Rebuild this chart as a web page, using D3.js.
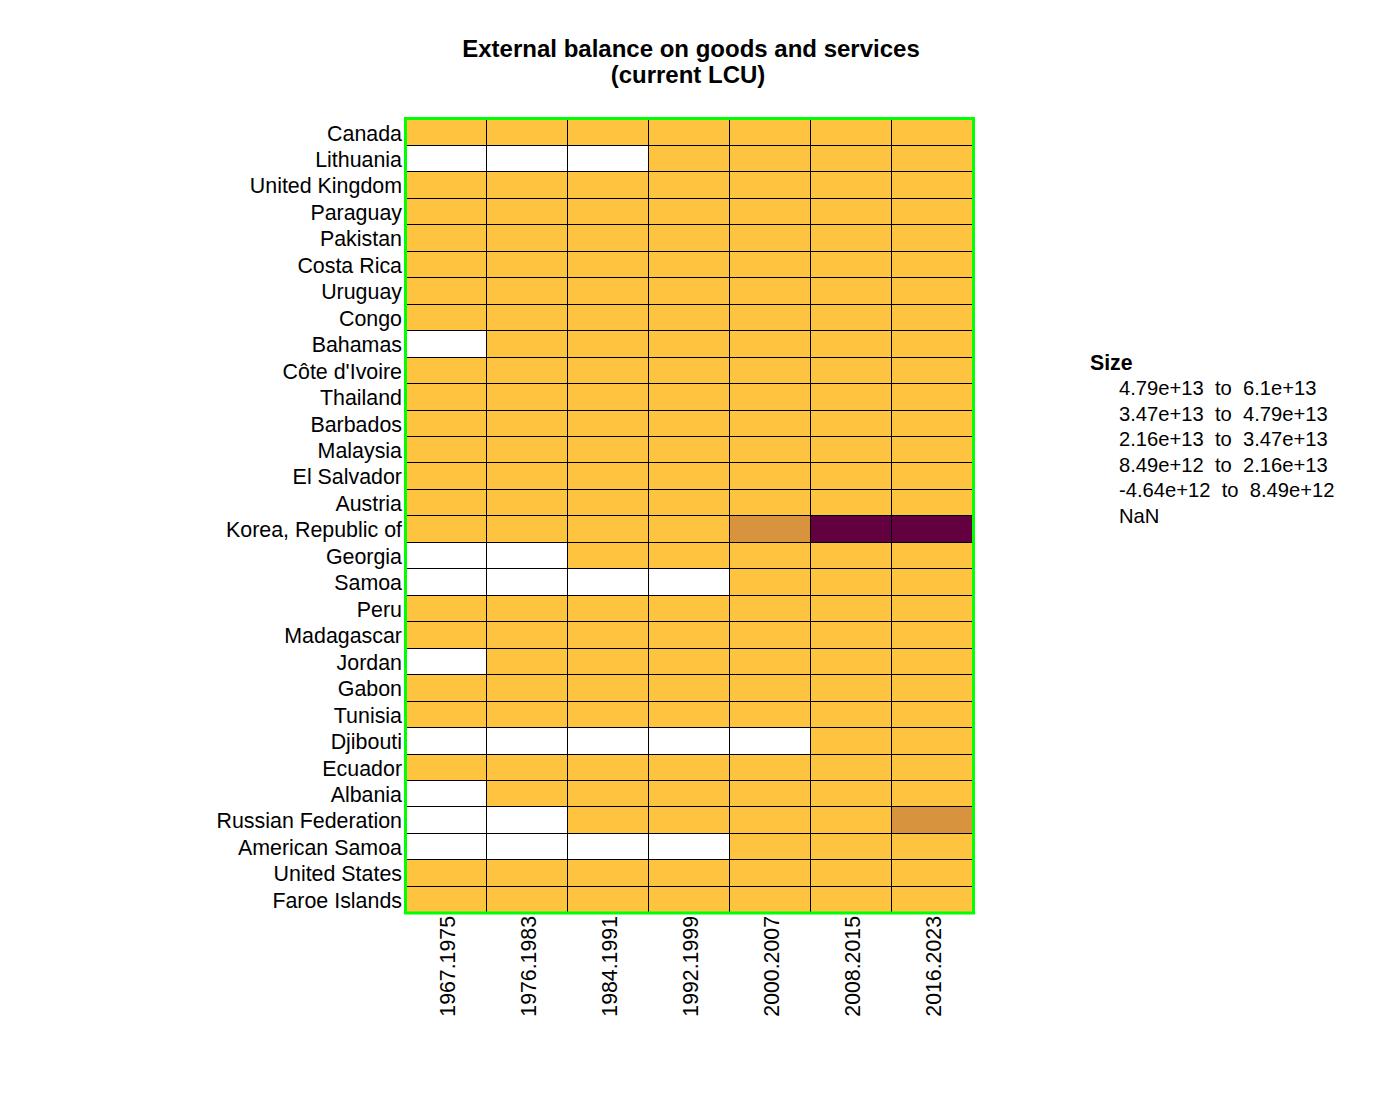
<!DOCTYPE html>
<html>
<head>
  <meta charset="utf-8">
  <script src="https://cdnjs.cloudflare.com/ajax/libs/d3/7.8.5/d3.min.js"></script>
  <style>
    html, body { margin: 0; padding: 0; background: #fff; }
    text { font-family: "Liberation Sans", Arial, sans-serif; fill: #000; }
  </style>
</head>
<body>
<script>
// rows top to bottom
var countries = ["Canada", "Lithuania", "United Kingdom", "Paraguay", "Pakistan", "Costa Rica",
  "Uruguay", "Congo", "Bahamas", "Côte d'Ivoire", "Thailand", "Barbados", "Malaysia",
  "El Salvador", "Austria", "Korea, Republic of", "Georgia", "Samoa", "Peru", "Madagascar",
  "Jordan", "Gabon", "Tunisia", "Djibouti", "Ecuador", "Albania", "Russian Federation",
  "American Samoa", "United States", "Faroe Islands"];
var periods = ["1967.1975", "1976.1983", "1984.1991", "1992.1999", "2000.2007", "2008.2015", "2016.2023"];

// class limits from the legend, low to high
var breaks = [8.49e12, 2.16e13, 3.47e13, 4.79e13];
var palette = ["#FFC43F", "#D8933F", "#B1623F", "#8A313F", "#63003F"];
var legendLabels = ["4.79e+13  to  6.1e+13", "3.47e+13  to  4.79e+13", "2.16e+13  to  3.47e+13",
  "8.49e+12  to  2.16e+13", "-4.64e+12  to  8.49e+12", "NaN"];
var titleLines = [
  { text: "External balance on goods and services", x: 691 },
  { text: "(current LCU)", x: 688 }
];

// only the colour class can be read off the picture, so values are estimates
var a = 1.9e12, n = null;
var balance = [
  [a, a, a, a, a, a, a],
  [n, n, n, a, a, a, a],
  [a, a, a, a, a, a, a],
  [a, a, a, a, a, a, a],
  [a, a, a, a, a, a, a],
  [a, a, a, a, a, a, a],
  [a, a, a, a, a, a, a],
  [a, a, a, a, a, a, a],
  [n, a, a, a, a, a, a],
  [a, a, a, a, a, a, a],
  [a, a, a, a, a, a, a],
  [a, a, a, a, a, a, a],
  [a, a, a, a, a, a, a],
  [a, a, a, a, a, a, a],
  [a, a, a, a, a, a, a],
  [a, a, a, a, 1.2e13, 5.5e13, 5.5e13],
  [n, n, a, a, a, a, a],
  [n, n, n, n, a, a, a],
  [a, a, a, a, a, a, a],
  [a, a, a, a, a, a, a],
  [n, a, a, a, a, a, a],
  [a, a, a, a, a, a, a],
  [a, a, a, a, a, a, a],
  [n, n, n, n, n, a, a],
  [a, a, a, a, a, a, a],
  [n, a, a, a, a, a, a],
  [n, n, a, a, a, a, 1.2e13],
  [n, n, n, n, a, a, a],
  [a, a, a, a, a, a, a],
  [a, a, a, a, a, a, a]
];

var left = 405.5, right = 973.5, top_ = 118.5, bottom = 913;

var svg = d3.select("body").append("svg")
  .attr("width", 1400)
  .attr("height", 1100)
  .style("display", "block");

var x = d3.scaleBand().domain(periods).range([left, right - 1]);
var y = d3.scaleBand().domain(countries).range([top_ + 0.5, bottom - 0.2]);
var color = d3.scaleThreshold().domain(breaks).range(palette);

// title
svg.selectAll(".title")
  .data(titleLines)
  .enter().append("text")
    .attr("class", "title")
    .attr("x", function (d) { return d.x; })
    .attr("y", function (d, i) { return 57 + i * 26; })
    .attr("text-anchor", "middle")
    .style("font-size", "24px")
    .style("font-weight", "bold")
    .text(function (d) { return d.text; });

// cells
var cells = [];
countries.forEach(function (c, i) {
  periods.forEach(function (p, j) {
    cells.push({ country: c, period: p, value: balance[i][j] });
  });
});

svg.append("g").selectAll("rect")
  .data(cells)
  .enter().append("rect")
    .attr("x", function (d) { return x(d.period); })
    .attr("y", function (d) { return y(d.country); })
    .attr("width", x.bandwidth())
    .attr("height", y.bandwidth())
    .attr("fill", function (d) { return d.value === null ? "#fff" : color(d.value); })
    .attr("stroke", "#000")
    .attr("stroke-width", 1)
    .attr("shape-rendering", "crispEdges");

// green frame
svg.append("rect")
  .attr("x", left)
  .attr("y", top_)
  .attr("width", right - left)
  .attr("height", bottom - top_)
  .attr("fill", "none")
  .attr("stroke", "#00FF00")
  .attr("stroke-width", 3);

// axes
var yAxis = svg.append("g")
  .attr("transform", "translate(402,1)")
  .call(d3.axisLeft(y).tickSize(0).tickPadding(0));
yAxis.select(".domain").remove();
yAxis.selectAll("text")
  .style("font-size", "21.4px")
  .attr("dy", "0.34em");

var xAxis = svg.append("g")
  .attr("transform", "translate(0," + (bottom + 3) + ")")
  .call(d3.axisBottom(x).tickSize(0).tickPadding(0));
xAxis.select(".domain").remove();
xAxis.selectAll("text")
  .style("font-size", "21.3px")
  .attr("text-anchor", "end")
  .attr("x", 0)
  .attr("y", 0)
  .attr("dy", "0.36em")
  .attr("transform", "translate(1,0) rotate(-90)");

// legend
svg.append("text")
  .attr("x", 1090)
  .attr("y", 370)
  .style("font-size", "21.3px")
  .style("font-weight", "bold")
  .text("Size");

svg.selectAll(".legend")
  .data(legendLabels)
  .enter().append("text")
    .attr("class", "legend")
    .attr("x", 1119)
    .attr("y", function (d, i) { return 395 + i * 25.6; })
    .style("font-size", "20.2px")
    .style("white-space", "pre")
    .text(function (d) { return d; });
</script>
</body>
</html>
